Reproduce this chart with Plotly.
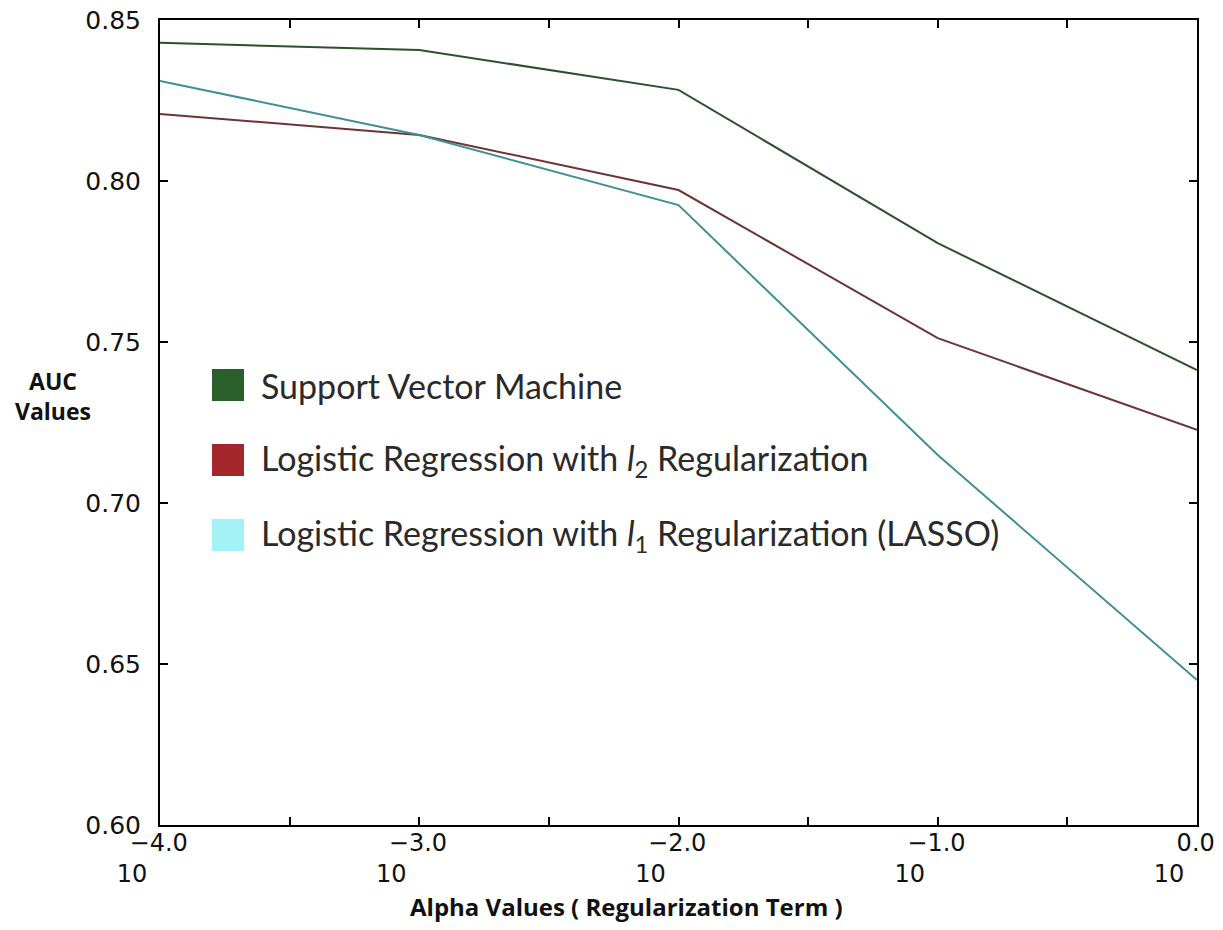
import plotly.graph_objects as go

alpha = [1e-4, 1e-3, 1e-2, 1e-1, 1e0]
svm_auc = [0.8429, 0.8407, 0.8283, 0.7807, 0.7413]
l2_auc = [0.8208, 0.8143, 0.7972, 0.7512, 0.7227]
l1_auc = [0.8311, 0.8143, 0.7925, 0.7149, 0.6450]

series_names = [
    "Support Vector Machine",
    "Logistic Regression with <i>l</i><sub>2</sub> Regularization",
    "Logistic Regression with <i>l</i><sub>1</sub> Regularization (LASSO)",
]
line_colors = ["#2c512c", "#6e3434", "#3f9096"]
swatch_colors = ["#2a5e2a", "#a3262c", "#a4f1f6"]

major_exponents = [-4.0, -3.0, -2.0, -1.0, 0.0]
minor_exponents = [-3.5, -2.5, -1.5, -0.5]
x_tickvals = [10 ** e for e in major_exponents]
x_minorvals = [10 ** e for e in minor_exponents]
pad = "&nbsp;" * 7
x_ticktext = ["%s%s<br>10" % (pad, ("%.1f" % e).replace("-", "\u2212")) for e in major_exponents]
y_tickvals = [0.60, 0.65, 0.70, 0.75, 0.80, 0.85]

fig = go.Figure()
for name, ys, col in zip(series_names, [svm_auc, l2_auc, l1_auc], line_colors):
    fig.add_trace(go.Scatter(x=alpha, y=ys, mode="lines", name=name,
                             line=dict(color=col, width=2), showlegend=False))

# Legend drawn as swatches + text (paper coords)
leg_y = [385, 460, 535]
for txt, sc, yy in zip(series_names, swatch_colors, leg_y):
    yp = 1 - (yy - 20) / 805
    fig.add_shape(type="rect", xref="paper", yref="paper",
                  x0=(212 - 160) / 1037, x1=(244 - 160) / 1037,
                  y0=yp - 16 / 805, y1=yp + 16 / 805,
                  fillcolor=sc, line=dict(width=0))
    fig.add_annotation(xref="paper", yref="paper", x=(259 - 160) / 1037, y=yp,
                       xanchor="left", yanchor="middle", showarrow=False,
                       text=txt, font=dict(family="Lato", size=34, color="#2a2a2a"))

fig.add_annotation(xref="paper", yref="paper", x=(53 - 160) / 1037, y=1 - (396 - 20) / 805,
                   xanchor="center", yanchor="middle", showarrow=False,
                   text="AUC<br>Values", font=dict(family="Open Sans", size=23, color="#111111",
                                                   weight="bold"))
fig.add_annotation(xref="paper", yref="paper", x=(626 - 160) / 1037, y=1 - (906 - 20) / 805,
                   xanchor="center", yanchor="middle", showarrow=False,
                   text="Alpha Values ( Regularization Term )",
                   font=dict(family="Open Sans", size=24, color="#111111", weight="bold"))

fig.update_layout(
    width=1207, height=914,
    margin=dict(l=152, r=18, t=12, b=97),
    paper_bgcolor="white", plot_bgcolor="white",
    font=dict(family="DejaVu Sans", color="#111111"),
)
fig.update_xaxes(
    type="log", range=[-4, 0], automargin=False,
    tickmode="array", tickvals=x_tickvals, ticktext=x_ticktext,
    ticks="inside", ticklen=8, tickwidth=1.5, tickcolor="black",
    minor=dict(tickmode="array", tickvals=x_minorvals, ticks="inside",
               ticklen=8, tickwidth=1.5, tickcolor="black", showgrid=False),
    showline=True, linecolor="black", linewidth=2, mirror="ticks",
    showgrid=False, zeroline=False,
    tickfont=dict(family="DejaVu Sans", size=24, color="#111111"),
    ticklabelstandoff=-5, ticklabelshift=-28, ticklabeloverflow="allow",
)
fig.update_yaxes(
    range=[0.60, 0.85], automargin=False,
    tickmode="array", tickvals=y_tickvals,
    ticktext=["%.2f" % v for v in y_tickvals],
    ticks="inside", ticklen=8, tickwidth=1.5, tickcolor="black",
    showline=True, linecolor="black", linewidth=2, mirror="ticks",
    showgrid=False, zeroline=False,
    tickfont=dict(family="DejaVu Sans", size=25, color="#111111"),
    ticklabelstandoff=12, ticklabeloverflow="allow",
)

fig.write_html("out.html")
